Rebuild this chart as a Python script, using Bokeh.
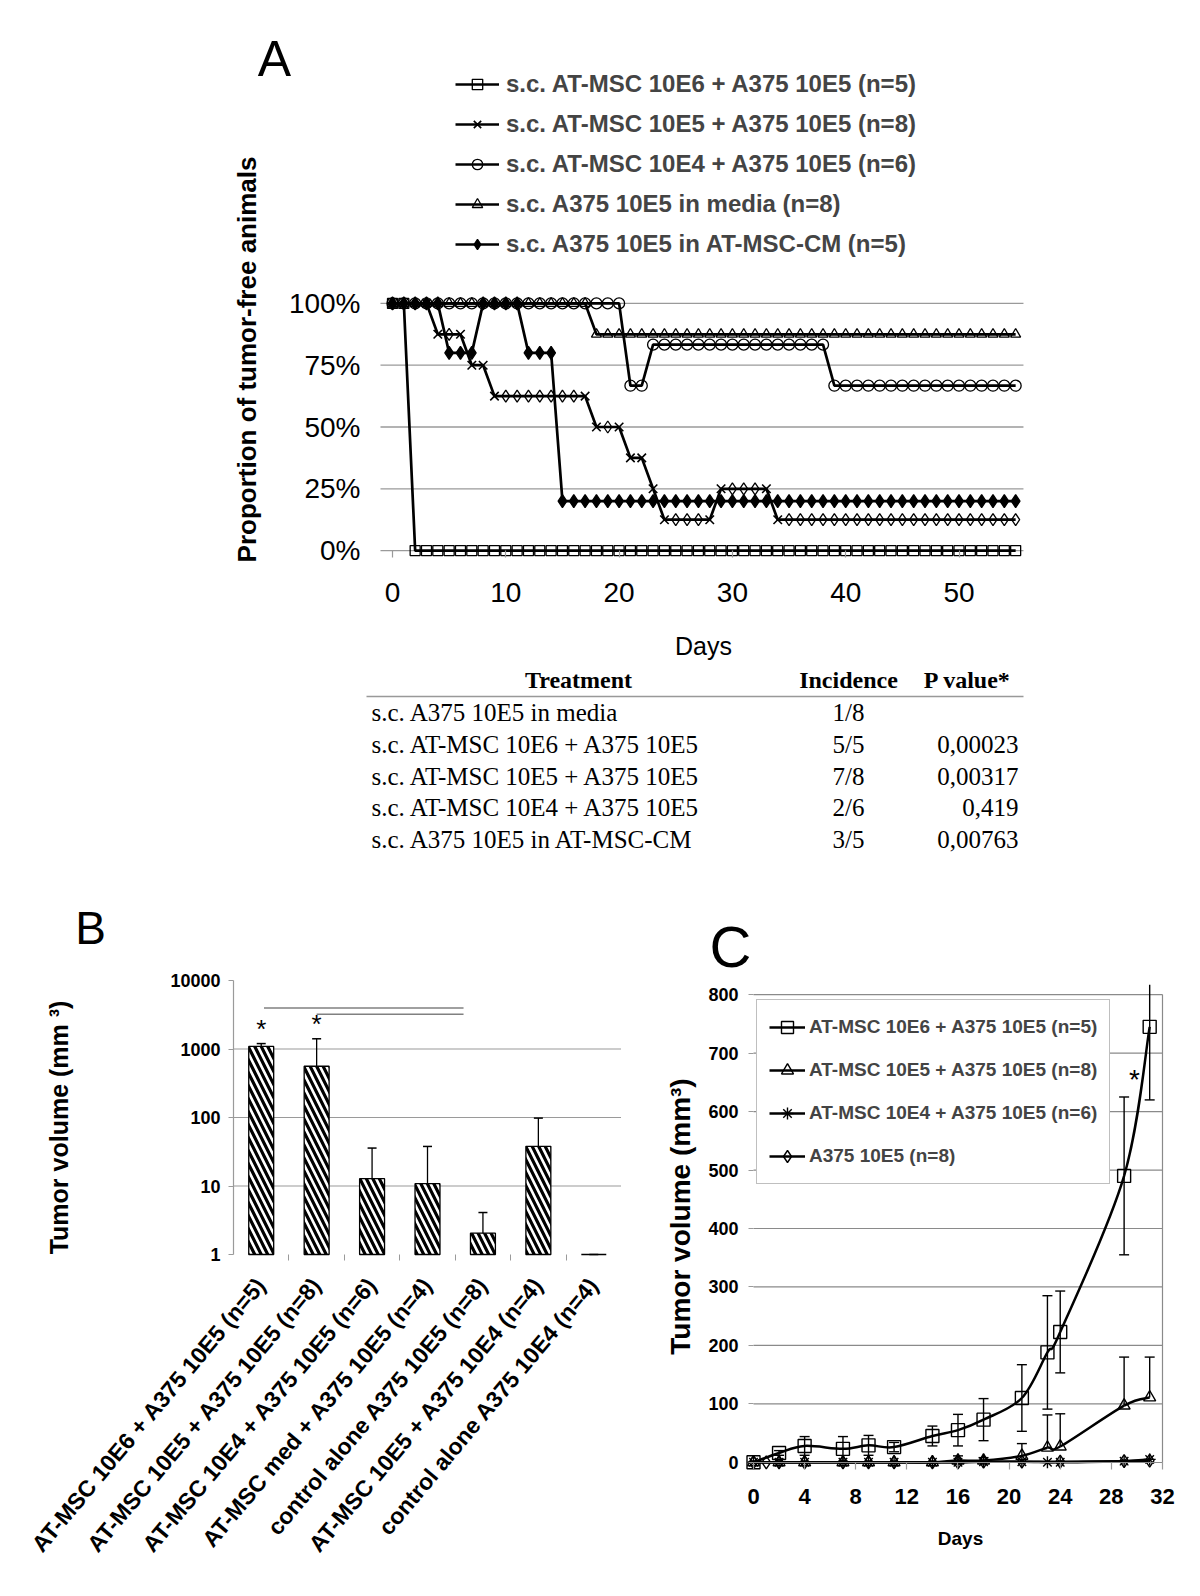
import math
from bokeh.plotting import figure
from bokeh.models import (Legend, LegendItem, Label, FixedTicker, PrintfTickFormatter,
                          CustomJSTickFormatter, Range1d, LinearAxis)
from bokeh.layouts import column, row
from bokeh.embed import file_html
from bokeh.resources import INLINE
from bokeh.core.properties import value

SANS = "Liberation Sans"
SERIF = "Liberation Serif"
GRID = "#9a9a9a"

# ---------------- Panel A data: proportion of tumor-free animals (%) by day ----------------
a_days = list(range(56))
a_10e6 = [100, 100, 0, 0, 0, 0, 0, 0, 0, 0,
          0, 0, 0, 0, 0, 0, 0, 0, 0, 0,
          0, 0, 0, 0, 0, 0, 0, 0, 0, 0,
          0, 0, 0, 0, 0, 0, 0, 0, 0, 0,
          0, 0, 0, 0, 0, 0, 0, 0, 0, 0,
          0, 0, 0, 0, 0, 0]
a_10e5 = [100, 100, 100, 100, 87.5, 87.5, 87.5, 75, 75, 62.5,
          62.5, 62.5, 62.5, 62.5, 62.5, 62.5, 62.5, 62.5, 50, 50,
          50, 37.5, 37.5, 25, 12.5, 12.5, 12.5, 12.5, 12.5, 25,
          25, 25, 25, 25, 12.5, 12.5, 12.5, 12.5, 12.5, 12.5,
          12.5, 12.5, 12.5, 12.5, 12.5, 12.5, 12.5, 12.5, 12.5, 12.5,
          12.5, 12.5, 12.5, 12.5, 12.5, 12.5]
a_10e4 = [100, 100, 100, 100, 100, 100, 100, 100, 100, 100,
          100, 100, 100, 100, 100, 100, 100, 100, 100, 100,
          100, 66.7, 66.7, 83.3, 83.3, 83.3, 83.3, 83.3, 83.3, 83.3,
          83.3, 83.3, 83.3, 83.3, 83.3, 83.3, 83.3, 83.3, 83.3, 66.7,
          66.7, 66.7, 66.7, 66.7, 66.7, 66.7, 66.7, 66.7, 66.7, 66.7,
          66.7, 66.7, 66.7, 66.7, 66.7, 66.7]
a_media = [100, 100, 100, 100, 100, 100, 100, 100, 100, 100,
           100, 100, 100, 100, 100, 100, 100, 100, 87.5, 87.5,
           87.5, 87.5, 87.5, 87.5, 87.5, 87.5, 87.5, 87.5, 87.5, 87.5,
           87.5, 87.5, 87.5, 87.5, 87.5, 87.5, 87.5, 87.5, 87.5, 87.5,
           87.5, 87.5, 87.5, 87.5, 87.5, 87.5, 87.5, 87.5, 87.5, 87.5,
           87.5, 87.5, 87.5, 87.5, 87.5, 87.5]
a_cm = [100, 100, 100, 100, 100, 80, 80, 80, 100, 100,
        100, 100, 80, 80, 80, 20, 20, 20, 20, 20,
        20, 20, 20, 20, 20, 20, 20, 20, 20, 20,
        20, 20, 20, 20, 20, 20, 20, 20, 20, 20,
        20, 20, 20, 20, 20, 20, 20, 20, 20, 20,
        20, 20, 20, 20, 20, 20]
a_labels = ["s.c. AT-MSC 10E6 + A375 10E5 (n=5)",
            "s.c. AT-MSC 10E5 + A375 10E5 (n=8)",
            "s.c. AT-MSC 10E4 + A375 10E5 (n=6)",
            "s.c. A375 10E5 in media (n=8)",
            "s.c. A375 10E5 in AT-MSC-CM (n=5)"]
a_yticks = [0, 25, 50, 75, 100]
a_xticks = [0, 10, 20, 30, 40, 50]

# ---------------- Table ----------------
tbl_headers = ["Treatment", "Incidence", "P value*"]
tbl_treatment = ["s.c. A375 10E5 in media",
                 "s.c. AT-MSC 10E6 + A375 10E5",
                 "s.c. AT-MSC 10E5 + A375 10E5",
                 "s.c. AT-MSC 10E4 + A375 10E5",
                 "s.c. A375 10E5 in AT-MSC-CM"]
tbl_incidence = ["1/8", "5/5", "7/8", "2/6", "3/5"]
tbl_pvalue = ["", "0,00023", "0,00317", "0,419", "0,00763"]

# ---------------- Panel B data ----------------
b_groups = ["AT-MSC 10E6 + A375 10E5 (n=5)",
            "AT-MSC 10E5 + A375 10E5 (n=8)",
            "AT-MSC 10E4 + A375 10E5 (n=6)",
            "AT-MSC med + A375 10E5 (n=4)",
            "control alone A375 10E5 (n=8)",
            "AT-MSC 10E5 + A375 10E4 (n=4)",
            "control alone A375 10E4 (n=4)"]
b_volume = [1090, 560, 12.8, 10.8, 2.05, 38, 1.0]
b_sd = [110, 850, 23, 27, 2.05, 60, 0]
b_yticks = [1, 10, 100, 1000, 10000]
b_sig_x0 = [0.55, 1.5]
b_sig_x1 = [4.15, 4.15]
b_sig_y = [3970, 3220]
b_star_groups = [0, 1]

# ---------------- Panel C data ----------------
c_days = [0, 2, 4, 7, 9, 11, 14, 16, 18, 21, 23, 24, 29, 31]
c_10e6 = [0, 16, 28, 23, 29, 26, 45, 55, 73, 110, 188, 223, 490, 745]
c_10e6_sd = [0, 4, 16, 21, 17, 8, 17, 27, 36, 57, 97, 70, 135, 125]
c_10e5 = [0, 0, 0, 0, 0, 0, 0, 3, 3, 11, 25, 27, 97, 111]
c_10e5_sd = [0, 0, 0, 0, 0, 0, 0, 8, 5, 21, 56, 56, 83, 69]
c_10e4 = [0, 0, 0, 0, 0, 0, 0, 0, 1, 1, 0, 0, 2, 5]
c_a375_days = [0, 1, 2, 4, 7, 9, 11, 14, 16, 18, 21, 24, 29, 31]
c_a375 = [0, 0, 0, 0, 0, 0, 0, 0, 0, 1, 1, 1, 2, 3]
c_labels = ["AT-MSC 10E6 + A375 10E5 (n=5)",
            "AT-MSC 10E5 + A375 10E5 (n=8)",
            "AT-MSC 10E4 + A375 10E5 (n=6)",
            "A375 10E5 (n=8)"]
c_yticks = [0, 100, 200, 300, 400, 500, 600, 700, 800]
c_xticks = [0, 4, 8, 12, 16, 20, 24, 28, 32]
c_star_x = [29.8]
c_star_y = [655]

# ---------------- page geometry (pixels) ----------------
W = 1200
HA, HT, HB = 660, 210, 726          # heights of: panel A, table, panels B/C
WB = 621                            # width of panel B canvas


def new_fig(w, h, xr, yr, **kw):
    p = figure(width=w, height=h, x_range=xr, y_range=yr, output_backend="svg",
               toolbar_location=None, **kw)
    p.min_border_left = p.min_border_right = p.min_border_top = p.min_border_bottom = 0
    p.outline_line_color = None
    p.background_fill_color = "white"
    p.border_fill_color = "white"
    p.grid.visible = False
    return p


def style_axis(ax, size, bold=True, standoff=8, tick_out=0, line=None, loc=None, bounds=None):
    ax.fixed_location = loc
    if bounds is not None:
        ax.bounds = bounds
    ax.major_label_text_font = SANS
    ax.major_label_text_font_size = size
    ax.major_label_text_font_style = "bold" if bold else "normal"
    ax.major_label_text_color = "black"
    ax.major_label_standoff = standoff
    ax.axis_line_color = line
    ax.axis_line_width = 1.2
    ax.major_tick_out = tick_out
    ax.major_tick_in = 0
    ax.major_tick_line_color = GRID if tick_out else None
    ax.major_tick_line_width = 1.2
    ax.minor_tick_line_color = None


def label(p, h, px, py, text, size, bold=True, angle=0.0, font=SANS, cl=0):
    # px, py: page pixel coordinates of the text centre; h: canvas height; cl: canvas left
    p.add_layout(Label(x=px - cl, y=h - py, x_units="screen", y_units="screen", text=text,
                       angle=angle, text_align="center", text_baseline="middle",
                       text_font=font, text_font_size=size,
                       text_font_style="bold" if bold else "normal", text_color="black"))


def smooth(xs, ys):
    # cubic Bezier pieces through the data points (spreadsheet-style smoothed line)
    n = len(xs)
    out = dict(x0=[], y0=[], x1=[], y1=[], cx0=[], cy0=[], cx1=[], cy1=[])
    for i in range(n - 1):
        xp, yp = (xs[i - 1], ys[i - 1]) if i > 0 else (xs[i], ys[i])
        xq, yq = (xs[i + 2], ys[i + 2]) if i + 2 < n else (xs[i + 1], ys[i + 1])
        out["x0"].append(xs[i]); out["y0"].append(ys[i])
        out["x1"].append(xs[i + 1]); out["y1"].append(ys[i + 1])
        out["cx0"].append(xs[i] + (xs[i + 1] - xp) / 6.0)
        out["cy0"].append(ys[i] + (ys[i + 1] - yp) / 6.0)
        out["cx1"].append(xs[i + 1] - (xq - xs[i]) / 6.0)
        out["cy1"].append(ys[i + 1] - (yq - ys[i]) / 6.0)
    return out


# =============================== Panel A ===============================
A_DAY0, A_PXD = 392.0, 11.33        # page x of day 0, px per day
A_ZERO, A_PXP = 550.1, 2.472        # page y of 0 %, px per percent
A_LEFT, A_RIGHT = -1.06, 55.69      # horizontal extent of the plotting area (days)
pa = new_fig(W, HA, Range1d(-A_DAY0 / A_PXD, (W - A_DAY0) / A_PXD),
             Range1d(-(HA - A_ZERO) / A_PXP, A_ZERO / A_PXP))
style_axis(pa.yaxis[0], "28px", bold=False, standoff=20, loc=A_LEFT, bounds=(0, 100))
pa.yaxis.ticker = FixedTicker(ticks=a_yticks)
pa.yaxis.formatter = PrintfTickFormatter(format="%d%%")
style_axis(pa.xaxis[0], "28px", bold=False, standoff=25, tick_out=7, loc=0, bounds=(0, 55))
pa.xaxis.ticker = FixedTicker(ticks=a_xticks)

pa.segment(x0=[A_LEFT] * len(a_yticks), y0=a_yticks, x1=[A_RIGHT] * len(a_yticks), y1=a_yticks,
           line_color=GRID, line_width=1.3)

items_a = []
specs_a = [(a_10e6, "square", 10, None), (a_10e5, "x", 12, None), (a_10e4, "circle", 11, None),
           (a_media, "triangle", 10, None), (a_cm, "diamond", 13, "black")]
for (ys, mk, sz, fill), lab in zip(specs_a, a_labels):
    ln = pa.line(a_days, ys, line_color="black", line_width=2.7)
    if mk == "x":
        n = len(ys)
        chg = [i for i in range(n) if (i > 0 and ys[i] != ys[i - 1]) or (i < n - 1 and ys[i] != ys[i + 1])]
        rest = [i for i in range(n) if i not in chg]
        pa.scatter([a_days[i] for i in rest], [ys[i] for i in rest], marker="diamond", size=12,
                   line_color="black", line_width=1.3, fill_color=None)
        sc = pa.scatter([a_days[i] for i in chg], [ys[i] for i in chg], marker="x", size=sz,
                        line_color="black", line_width=1.6)
    else:
        sc = pa.scatter(a_days, ys, marker=mk, size=sz, line_color="black", line_width=1.3,
                        fill_color=fill)
    items_a.append(LegendItem(label=lab, renderers=[ln, sc]))

leg_a = Legend(items=items_a, location=(455, HA - 258), orientation="vertical",
               glyph_width=44, glyph_height=26, label_height=26, spacing=12, padding=0, margin=0,
               label_standoff=7, border_line_color=None, background_fill_alpha=0,
               label_text_font=SANS, label_text_font_size="24px", label_text_font_style="bold")
pa.add_layout(leg_a)
label(pa, HA, 274, 58, "A", "50px", bold=False)
label(pa, HA, 246, 359, "Proportion of tumor-free animals", "26px", angle=math.pi / 2)
label(pa, HA, 703, 645, "Days", "25px", bold=False)

# =============================== Table ===============================
pt = new_fig(W, HT, Range1d(0, W), Range1d(HT, 0))
pt.axis.visible = False
T_TOP = HA                           # page y of the table canvas top
T_HEAD, T_RULE, T_ROW0, T_PITCH = 679 - T_TOP, 696 - T_TOP, 712 - T_TOP, 31.75
row_y = [T_ROW0 + i * T_PITCH for i in range(len(tbl_treatment))]
pt.text(x=[578, 848, 967], y=[T_HEAD] * 3, text=tbl_headers, text_font=value(SERIF),
        text_font_size="24px", text_font_style="bold", text_align="center",
        text_baseline="middle", text_color="black")
pt.segment(x0=[366], y0=[T_RULE], x1=[1023], y1=[T_RULE], line_color="#999999", line_width=1.5)
pt.text(x=[371] * len(row_y), y=row_y, text=tbl_treatment, text_font=value(SERIF),
        text_font_size="25px", text_align="left", text_baseline="middle", text_color="black")
pt.text(x=[848] * len(row_y), y=row_y, text=tbl_incidence, text_font=value(SERIF),
        text_font_size="25px", text_align="center", text_baseline="middle", text_color="black")
pt.text(x=[1018] * len(row_y), y=row_y, text=tbl_pvalue, text_font=value(SERIF),
        text_font_size="25px", text_align="right", text_baseline="middle", text_color="black")

# =============================== Panel B ===============================
ROW_TOP = HA + HT                    # page y of panels B/C canvas top (870)
B_X0, B_PXC = 233.0, 55.43           # page x of category axis start, px per category
B_ONE, B_PXD = 1254.0 - ROW_TOP, 68.5  # canvas y of value 1, px per decade
pb = new_fig(WB, HB, Range1d(-B_X0 / B_PXC, (WB - B_X0) / B_PXC),
             Range1d(10 ** (-(HB - B_ONE) / B_PXD), 10 ** (B_ONE / B_PXD)), y_axis_type="log")
b_x = [i + 0.5 for i in range(len(b_groups))]
b_top = [v + s for v, s in zip(b_volume, b_sd)]
style_axis(pb.yaxis[0], "18px", standoff=8, tick_out=5, line=GRID, loc=0, bounds=(1, 10000))
pb.yaxis.ticker = FixedTicker(ticks=b_yticks)
pb.yaxis.formatter = PrintfTickFormatter(format="%d")
style_axis(pb.xaxis[0], "23px", standoff=20, loc=1, bounds=(0, len(b_groups)))
pb.xaxis.ticker = FixedTicker(ticks=b_x, minor_ticks=[i for i in range(1, len(b_groups))])
pb.xaxis.minor_tick_line_color = GRID
pb.xaxis.minor_tick_out = 6
pb.xaxis.minor_tick_in = 0
pb.xaxis.formatter = CustomJSTickFormatter(args=dict(labels=b_groups),
                                           code="return labels[Math.floor(tick)] || '';")
pb.xaxis.major_label_orientation = math.radians(50)

grid_b = b_yticks[1:-1]
pb.segment(x0=[0] * len(grid_b), y0=grid_b, x1=[len(b_groups)] * len(grid_b), y1=grid_b,
           line_color=GRID, line_width=1.2)
pb.segment(x0=b_sig_x0, y0=b_sig_y, x1=b_sig_x1, y1=b_sig_y, line_color="#808080", line_width=1.5)
pb.vbar(x=b_x, top=b_volume, bottom=1, width=0.45, fill_color="white", line_color="black",
        line_width=1.3, hatch_pattern="\\", hatch_color="black", hatch_weight=3.2, hatch_scale=13)
pb.segment(x0=b_x, y0=b_volume, x1=b_x, y1=b_top, line_color="black", line_width=1.3)
pb.scatter(b_x, b_top, marker="dash", size=9, line_color="black", line_width=1.5)
pb.text(x=[b_x[i] for i in b_star_groups], y=[b_top[i] for i in b_star_groups],
        text=["*"] * len(b_star_groups), text_font=value(SANS), text_font_size="26px",
        text_align="center", text_baseline="bottom", text_color="black")
label(pb, HB, 90, 927 - ROW_TOP, "B", "46px", bold=False)
label(pb, HB, 58, 1127 - ROW_TOP, "Tumor volume (mm \u00b3)", "25px", angle=math.pi / 2)

# =============================== Panel C ===============================
WC = W - WB
C_DAY0, C_PXD = 753.0 - WB, 12.78    # canvas x of day 0, px per day
C_ZERO, C_PXU = 1461.8 - ROW_TOP, 0.5845  # canvas y of 0 mm3, px per mm3
C_AREA_TOP = 817                     # top of the chart area (error bars are cut there)
pc = new_fig(WC, HB, Range1d(-C_DAY0 / C_PXD, (WC - C_DAY0) / C_PXD),
             Range1d(-(HB - C_ZERO) / C_PXU, C_ZERO / C_PXU))
style_axis(pc.yaxis[0], "18px", standoff=10, tick_out=5, loc=0, bounds=(0, 800))
pc.yaxis.ticker = FixedTicker(ticks=c_yticks)
style_axis(pc.xaxis[0], "22px", standoff=20, tick_out=7, line="#8a8a8a", loc=0, bounds=(0, 32))
pc.xaxis.ticker = FixedTicker(ticks=c_xticks)
rax = LinearAxis(fixed_location=32, bounds=(0, 800), ticker=FixedTicker(ticks=[]),
                 axis_line_color="#8a8a8a", axis_line_width=1.2, major_tick_line_color=None,
                 minor_tick_line_color=None, major_label_text_font_size="0px")
pc.add_layout(rax, "right")
grid_c = c_yticks[1:]
pc.segment(x0=[0] * len(grid_c), y0=grid_c, x1=[32] * len(grid_c), y1=grid_c,
           line_color="#8a8a8a", line_width=1.2)

specs_c = [(c_a375_days, c_a375, "diamond", 13), (c_days, c_10e4, "asterisk", 12),
           (c_days, c_10e5, "triangle", 12), (c_days, c_10e6, "square", 13)]
rend_c = {}
for xs, ys, mk, sz in specs_c:
    bz = pc.bezier(line_color="black", line_width=2.5, **smooth(xs, ys))
    sc = pc.scatter(xs, ys, marker=mk, size=sz, line_color="black", line_width=1.4, fill_color=None)
    rend_c[mk] = [bz, sc]

up6 = [v + s for v, s in zip(c_10e6, c_10e6_sd)]
dn6 = [v - s for v, s in zip(c_10e6, c_10e6_sd)]
up6_drawn = [min(u, C_AREA_TOP) for u in up6]
pc.segment(x0=c_days, y0=dn6, x1=c_days, y1=up6_drawn, line_color="black", line_width=1.4)
caps_x = [d for d, u in zip(c_days, up6) if u <= C_AREA_TOP] + c_days
caps_y = [u for u in up6 if u <= C_AREA_TOP] + dn6
pc.scatter(caps_x, caps_y, marker="dash", size=10, line_color="black", line_width=1.4)
up5 = [v + s for v, s in zip(c_10e5, c_10e5_sd)]
pc.segment(x0=c_days, y0=c_10e5, x1=c_days, y1=up5, line_color="black", line_width=1.4)
pc.scatter(c_days, up5, marker="dash", size=10, line_color="black", line_width=1.4)
pc.text(x=c_star_x, y=c_star_y, text=["*"], text_font=value(SANS), text_font_size="28px",
        text_align="center", text_baseline="middle", text_color="black")

items_c = [LegendItem(label=lab, renderers=rend_c[mk])
           for lab, mk in zip(c_labels, ["square", "triangle", "asterisk", "diamond"])]
leg_c = Legend(items=items_c, location=(756 - WB, HB - (1184 - ROW_TOP)), orientation="vertical",
               glyph_width=36, glyph_height=30, label_height=30, spacing=13, padding=12, margin=0,
               label_standoff=4, border_line_color="#808080", border_line_width=1.2,
               background_fill_color="white", background_fill_alpha=1.0,
               label_text_font=SANS, label_text_font_size="19px", label_text_font_style="bold")
pc.add_layout(leg_c)
label(pc, HB, 730, 946 - ROW_TOP, "C", "58px", bold=False, cl=WB)
label(pc, HB, 680, 1216 - ROW_TOP, "Tumor volume (mm\u00b3)", "28px", angle=math.pi / 2, cl=WB)
label(pc, HB, 960, 1538 - ROW_TOP, "Days", "19px", cl=WB)

layout = column(pa, pt, row(pb, pc))
open("out.html", "w").write(file_html(layout, INLINE))
